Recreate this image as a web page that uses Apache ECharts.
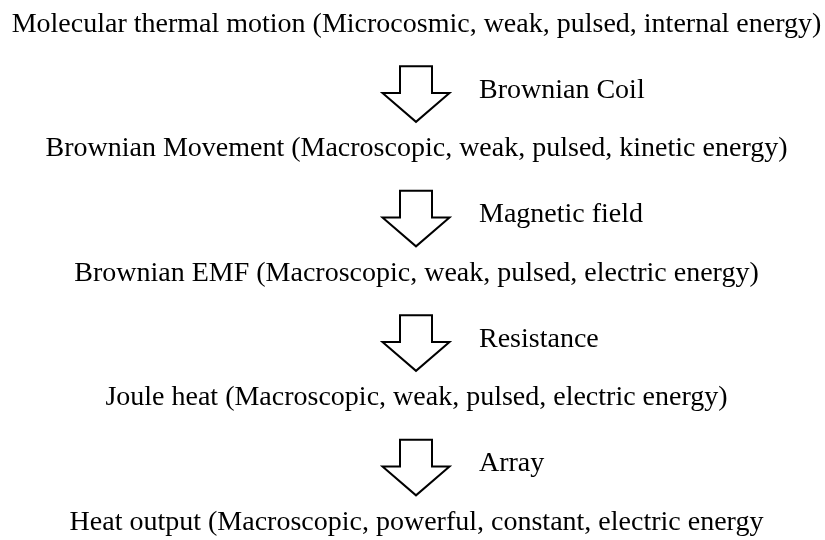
<!DOCTYPE html>
<html>
<head>
<meta charset="utf-8">
<script src="https://cdn.jsdelivr.net/npm/echarts@6/dist/echarts.min.js"></script>
<style>
html,body{margin:0;padding:0;background:#fff;}
#chart{width:825px;height:540px;}
</style>
</head>
<body>
<div id="chart"></div>
<script>
var steps = [
  'Molecular thermal motion (Microcosmic, weak, pulsed, internal energy)',
  'Brownian Movement (Macroscopic, weak, pulsed, kinetic energy)',
  'Brownian EMF (Macroscopic, weak, pulsed, electric energy)',
  'Joule heat (Macroscopic, weak, pulsed, electric energy)',
  'Heat output (Macroscopic, powerful, constant, electric energy'
];
var transitions = ['Brownian Coil', 'Magnetic field', 'Resistance', 'Array'];

var FONT = "'Liberation Serif', 'Times New Roman', serif";
var FS = 28;
var CENTER_X = 416.5;

var chart = echarts.init(document.getElementById('chart'), null, {renderer: 'canvas'});

var data = steps.map(function (s, i) { return [i]; });

function renderItem(params, api) {
  var i = api.value(0);
  var children = [];
  var c = api.coord([CENTER_X, i]);
  children.push({
    type: 'text',
    style: {
      text: steps[i], x: c[0], y: c[1],
      textAlign: 'center', textVerticalAlign: 'middle',
      font: FS + 'px ' + FONT, fill: '#000'
    }
  });
  if (i < transitions.length) {
    var top = api.coord([416, i + 0.335])[1];
    var tip = api.coord([416, i + 0.782])[1];
    var ax = api.coord([416, i])[0];
    var headY = top + (tip - top) * 0.48;
    var sw = 16, hw = 33.5;
    children.push({
      type: 'polygon',
      shape: { points: [
        [ax - sw, top], [ax + sw, top], [ax + sw, headY], [ax + hw, headY],
        [ax, tip], [ax - hw, headY], [ax - sw, headY]
      ]},
      style: { fill: '#fff', stroke: '#000', lineWidth: 2, lineJoin: 'miter' }
    });
    var ly = api.coord([0, i + 0.53])[1];
    children.push({
      type: 'text',
      style: {
        text: transitions[i], x: ax + 63, y: ly,
        textAlign: 'left', textVerticalAlign: 'middle',
        font: FS + 'px ' + FONT, fill: '#000'
      }
    });
  }
  return { type: 'group', children: children };
}

chart.setOption({
  backgroundColor: '#fff',
  animation: false,
  grid: { left: 0, right: 0, top: 0, bottom: 0 },
  xAxis: { type: 'value', min: 0, max: 825, show: false },
  yAxis: { type: 'value', inverse: true, min: -24.5 / 124.5, max: (540 - 24.5) / 124.5, show: false },
  series: [{
    type: 'custom',
    renderItem: renderItem,
    data: data,
    clip: false
  }]
});
</script>
</body>
</html>
